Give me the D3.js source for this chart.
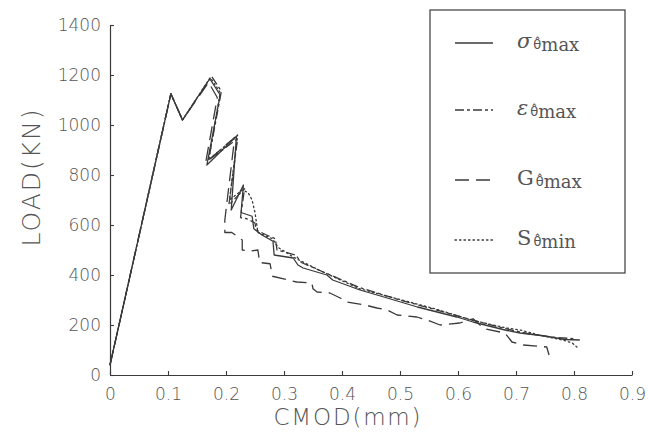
<!DOCTYPE html>
<html>
<head>
<meta charset="utf-8">
<script src="https://cdn.jsdelivr.net/npm/d3@7"></script>
<style>
  html, body { margin: 0; padding: 0; background: #fff; }
  svg { display: block; }
</style>
</head>
<body>
<svg id="chart" width="648" height="438"></svg>
<script>
// ---------- data ----------
const xTicks = [0, 0.1, 0.2, 0.3, 0.4, 0.5, 0.6, 0.7, 0.8, 0.9];
const yTicks = [0, 200, 400, 600, 800, 1000, 1200, 1400];

const sigmaCmod = [0, 0.105, 0.125, 0.172, 0.19, 0.167, 0.218, 0.209, 0.23, 0.226, 0.245, 0.248, 0.262, 0.281, 0.283, 0.316, 0.324, 0.333, 0.374, 0.384, 0.431, 0.478, 0.53, 0.598, 0.626, 0.655, 0.681, 0.707, 0.75, 0.784, 0.81];
const sigmaLoad = [40, 1125, 1020, 1185, 1120, 840, 955, 660, 760, 650, 635, 585, 560, 535, 480, 468, 440, 428, 400, 380, 340, 308, 272, 232, 212, 195, 180, 168, 156, 142, 140];

const epsCmod = [0, 0.105, 0.125, 0.175, 0.192, 0.17, 0.22, 0.205, 0.232, 0.225, 0.236, 0.25, 0.252, 0.27, 0.285, 0.288, 0.32, 0.33, 0.37, 0.43, 0.5, 0.56, 0.6, 0.64, 0.68, 0.72, 0.76, 0.8];
const epsLoad = [40, 1125, 1020, 1195, 1135, 860, 945, 680, 745, 630, 625, 608, 580, 560, 545, 500, 480, 450, 410, 350, 300, 262, 236, 210, 186, 166, 152, 145];

const gCmod = [0, 0.105, 0.125, 0.17, 0.185, 0.165, 0.215, 0.198, 0.198, 0.21, 0.228, 0.228, 0.24, 0.255, 0.258, 0.276, 0.28, 0.322, 0.348, 0.35, 0.357, 0.379, 0.397, 0.409, 0.44, 0.46, 0.478, 0.495, 0.529, 0.547, 0.569, 0.603, 0.626, 0.645, 0.681, 0.693, 0.712, 0.753, 0.757];
const gLoad = [40, 1125, 1020, 1170, 1110, 850, 950, 620, 570, 570, 540, 500, 495, 500, 450, 445, 395, 372, 368, 345, 332, 328, 308, 292, 280, 268, 260, 240, 232, 220, 200, 208, 225, 185, 168, 132, 120, 112, 80];

const sCmod = [0, 0.105, 0.125, 0.173, 0.19, 0.17, 0.22, 0.206, 0.228, 0.238, 0.245, 0.25, 0.255, 0.28, 0.29, 0.316, 0.33, 0.36, 0.43, 0.5, 0.56, 0.62, 0.66, 0.684, 0.707, 0.74, 0.78, 0.797, 0.805];
const sLoad = [40, 1125, 1020, 1190, 1130, 860, 960, 700, 740, 730, 700, 650, 570, 545, 510, 472, 455, 420, 345, 302, 265, 222, 200, 188, 180, 160, 140, 128, 112];

const seriesNames = ["σ", "ε", "G", "S"];
const seriesSub = ["max", "max", "max", "min"];
const seriesCmod = [sigmaCmod, epsCmod, gCmod, sCmod];
const seriesLoad = [sigmaLoad, epsLoad, gLoad, sLoad];

// ---------- styles / layout ----------
const ink = "#3a3a3a";
const textInk = "#555";
const dashes = [null, "9,3,3,3", "14,7", "1.5,3"];
const italic = [true, true, false, false];

const svg = d3.select("#chart");
const x = d3.scaleLinear().domain([0, 0.9]).range([110, 632]);
const y = d3.scaleLinear().domain([0, 1400]).range([375, 25]);

// axes
const xAxis = d3.axisBottom(x).tickValues(xTicks).tickFormat(d => d === 0 ? "0" : d3.format(".1f")(d))
  .tickSizeInner(-4).tickSizeOuter(0).tickPadding(13);
const yAxis = d3.axisLeft(y).tickValues(yTicks).tickFormat(d3.format("d"))
  .tickSizeInner(-4).tickSizeOuter(0).tickPadding(9);

const gx = svg.append("g").attr("transform", `translate(0,${y(0)})`).call(xAxis);
const gy = svg.append("g").attr("transform", `translate(${x(0)},0)`).call(yAxis);
[gx, gy].forEach(g => {
  g.select(".domain").attr("stroke", ink).attr("stroke-width", 1.2);
  g.selectAll(".tick line").attr("stroke", ink).attr("stroke-width", 1.1);
  g.selectAll(".tick text").attr("fill", textInk)
    .attr("font-family", "DejaVu Sans, sans-serif").attr("font-size", 17).attr("font-weight", 300);
});

// axis titles
svg.append("text").attr("x", 347).attr("y", 425).attr("text-anchor", "middle")
  .attr("font-family", "DejaVu Sans, sans-serif").attr("font-size", 23).attr("font-weight", 300)
  .attr("fill", textInk).attr("textLength", 147).attr("lengthAdjust", "spacing").text("CMOD(mm)");
svg.append("text").attr("transform", "translate(40,178) rotate(-90)").attr("text-anchor", "middle")
  .attr("font-family", "DejaVu Sans, sans-serif").attr("font-size", 25).attr("font-weight", 300)
  .attr("fill", textInk).attr("textLength", 137).attr("lengthAdjust", "spacing").text("LOAD(KN)");

// curves
const line = d3.line().x(d => x(d[0])).y(d => y(d[1]));
seriesCmod.forEach((cm, i) => {
  const pts = cm.map((c, j) => [c, seriesLoad[i][j]]);
  svg.append("path").datum(pts).attr("d", line)
    .attr("fill", "none").attr("stroke", ink).attr("stroke-width", 1.3)
    .attr("stroke-linejoin", "round").attr("stroke-linecap", i === 3 ? "round" : "butt")
    .attr("stroke-dasharray", dashes[i]);
});

// legend
svg.append("rect").attr("x", 430).attr("y", 10).attr("width", 195).attr("height", 263)
  .attr("fill", "#fff").attr("stroke", ink).attr("stroke-width", 1.2);
const legendY = [43, 110, 180, 240];
seriesNames.forEach((n, i) => {
  svg.append("line").attr("x1", 455).attr("x2", 493).attr("y1", legendY[i]).attr("y2", legendY[i])
    .attr("stroke", ink).attr("stroke-width", 1.3).attr("stroke-dasharray", dashes[i])
    .attr("stroke-linecap", i === 3 ? "round" : "butt");
  const t = svg.append("text").attr("x", 517).attr("y", legendY[i] + 5)
    .attr("font-family", "DejaVu Serif, Liberation Serif, serif").attr("fill", textInk);
  t.append("tspan").attr("font-size", 21).attr("font-style", italic[i] ? "italic" : "normal").text(n);
  t.append("tspan").attr("font-size", 13).attr("dx", 2).attr("dy", 1)
    .attr("font-family", "DejaVu Sans, sans-serif").text("θ\u0302");
  t.append("tspan").attr("font-size", 18).attr("dy", 2).text(seriesSub[i]);
});
</script>
</body>
</html>
